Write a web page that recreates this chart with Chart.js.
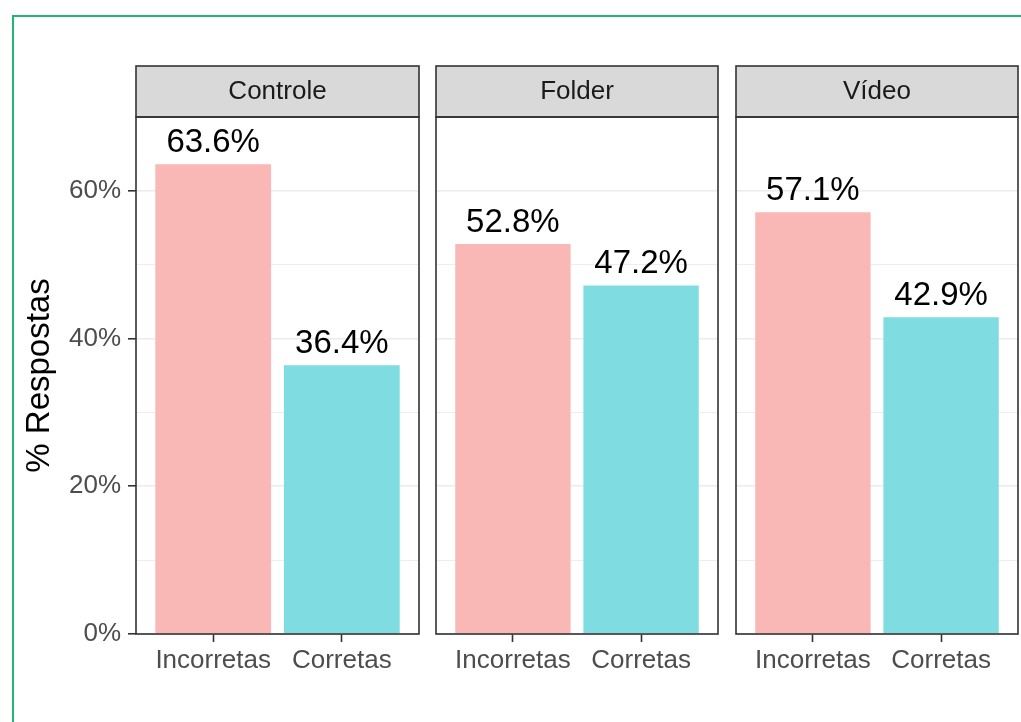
<!DOCTYPE html>
<html><head><meta charset="utf-8">
<script src="https://cdn.jsdelivr.net/npm/chart.js@4"></script>
<style>
html,body{margin:0;padding:0;background:#fff;width:1021px;height:722px;overflow:hidden;position:relative;}
#frame{position:absolute;left:12px;top:15px;width:1030px;height:730px;border:2px solid #22B573;box-sizing:border-box;}
canvas{position:absolute;top:0;}
</style></head><body>
<div id="frame"></div>
<canvas id="c0" width="430" height="722" style="left:0px"></canvas>
<canvas id="c1" width="300" height="722" style="left:430px"></canvas>
<canvas id="c2" width="291" height="722" style="left:730px"></canvas>
<script>
// ---- data ----
const panels = ['Controle', 'Folder', 'Vídeo'];
const categories = ['Incorretas', 'Corretas'];
const controleValues = [63.6, 36.4];
const folderValues = [52.8, 47.2];
const videoValues = [57.1, 42.9];
const yTickLabels = [0, 20, 40, 60];
const barColors = ['#F9B8B5', '#7FDDE1'];
const yTitle = '% Respostas';

const FONT = '"Liberation Sans", Arial, Helvetica, sans-serif';
const panelValues = [controleValues, folderValues, videoValues];

const panelFrame = {
  id: 'panelFrame',
  beforeDraw(chart) {
    const a = chart.chartArea, ctx = chart.ctx;
    const tb = chart.titleBlock;
    const top = tb ? tb.top : a.top - 51;
    ctx.save();
    ctx.fillStyle = '#D9D9D9';
    ctx.fillRect(a.left, top, a.right - a.left, a.top - top);
    ctx.restore();
  },
  afterDraw(chart) {
    const a = chart.chartArea, ctx = chart.ctx;
    const tb = chart.titleBlock;
    const top = tb ? tb.top : a.top - 51;
    ctx.save();
    ctx.strokeStyle = '#333333';
    ctx.lineWidth = 1.6;
    ctx.strokeRect(a.left, top, a.right - a.left, a.top - top);
    ctx.strokeRect(a.left, a.top, a.right - a.left, a.bottom - a.top);
    ctx.restore();
  }
};

const valueLabels = {
  id: 'valueLabels',
  afterDatasetsDraw(chart) {
    const ctx = chart.ctx;
    const meta = chart.getDatasetMeta(0);
    const data = chart.data.datasets[0].data;
    ctx.save();
    ctx.font = '33px ' + FONT;
    ctx.fillStyle = '#000';
    ctx.textAlign = 'center';
    ctx.textBaseline = 'alphabetic';
    meta.data.forEach((bar, i) => {
      ctx.fillText(data[i].y.toFixed(1) + '%', bar.x, bar.y - 12);
    });
    ctx.restore();
  }
};

const layouts = [
  {id: 'c0', pad: {top: 66, left: 0, right: 11, bottom: 0}, showY: true},
  {id: 'c1', pad: {top: 66, left: 6, right: 12, bottom: 0}, showY: false},
  {id: 'c2', pad: {top: 66, left: 6, right: 3, bottom: 0}, showY: false}
];

layouts.forEach((L, p) => {
  const values = panelValues[p];
  new Chart(document.getElementById(L.id), {
    type: 'bar',
    data: {
      datasets: [{
        data: values.map((v, i) => ({x: i + 1, y: v})),
        backgroundColor: barColors,
        borderWidth: 0,
        barPercentage: 0.9,
        categoryPercentage: 1.0
      }]
    },
    options: {
      responsive: false,
      animation: false,
      devicePixelRatio: 1,
      layout: {padding: L.pad},
      plugins: {
        legend: {display: false},
        tooltip: {enabled: false},
        title: {
          display: true,
          text: panels[p],
          fullSize: false,
          color: '#1A1A1A',
          font: {family: FONT, size: 26, weight: 'normal', lineHeight: 1},
          padding: {top: 12.5, bottom: 12.5}
        }
      },
      scales: {
        x: {
          type: 'linear',
          min: 0.4, max: 2.6,
          offset: false,
          afterBuildTicks: s => { s.ticks = categories.map((c, i) => ({value: i + 1})); },
          ticks: {
            autoSkip: false, maxRotation: 0,
            callback: v => categories[v - 1] || '',
            color: '#4D4D4D',
            font: {family: FONT, size: 26},
            padding: 3
          },
          grid: {display: true, drawOnChartArea: false, drawTicks: true, offset: false,
                 tickLength: 8, tickWidth: 1.6, tickColor: '#333333'},
          border: {display: false},
          afterFit: s => { s.height = 88; }
        },
        y: {
          min: 0, max: 70,
          ticks: {
            display: L.showY,
            stepSize: 10, autoSkip: false,
            callback: v => yTickLabels.includes(v) ? v + '%' : '',
            color: '#4D4D4D',
            font: {family: FONT, size: 26},
            padding: 7
          },
          grid: {
            color: '#EBEBEB',
            lineWidth: c => (c.tick && yTickLabels.includes(c.tick.value)) ? 1.6 : 0.9,
            drawTicks: L.showY,
            tickLength: 8,
            tickWidth: 1.6,
            tickColor: c => (c.tick && yTickLabels.includes(c.tick.value)) ? '#333333' : 'rgba(0,0,0,0)'
          },
          border: {display: false},
          title: {
            display: L.showY,
            text: yTitle,
            color: '#000',
            font: {family: FONT, size: 33, lineHeight: 1.2},
            padding: {top: 20, bottom: 0}
          },
          afterFit: s => { s.width = L.showY ? 136 : 0; }
        }
      }
    },
    plugins: [panelFrame, valueLabels]
  });
});
</script>
</body></html>
